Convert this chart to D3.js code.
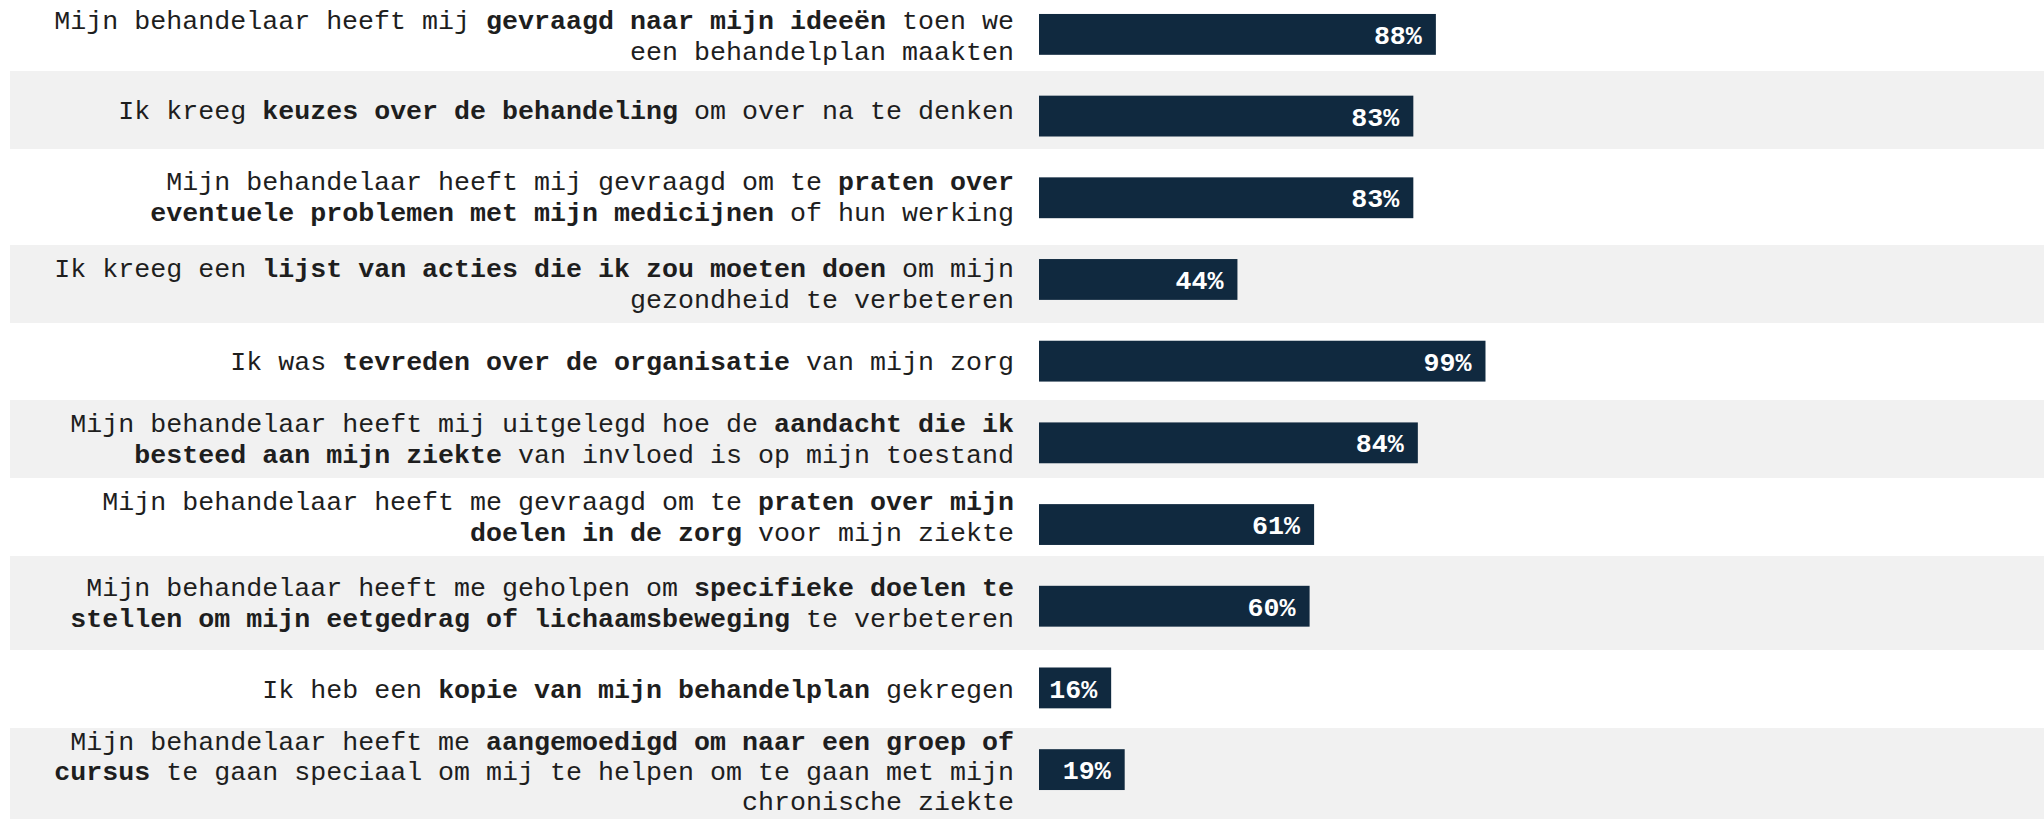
<!DOCTYPE html>
<html>
<head>
<meta charset="utf-8">
<script src="https://cdn.jsdelivr.net/npm/d3@7"></script>
<style>
  html, body { margin: 0; padding: 0; background: #ffffff; }
  svg { display: block; }
</style>
</head>
<body>
<svg id="chart" width="2044" height="819"></svg>
<script>
// ---- data ----
const statements = [
  "Mijn behandelaar heeft mij **gevraagd naar mijn ideeën** toen we\neen behandelplan maakten",
  "Ik kreeg **keuzes over de behandeling** om over na te denken",
  "Mijn behandelaar heeft mij gevraagd om te **praten over**\n**eventuele problemen met mijn medicijnen** of hun werking",
  "Ik kreeg een **lijst van acties die ik zou moeten doen** om mijn\ngezondheid te verbeteren",
  "Ik was **tevreden over de organisatie** van mijn zorg",
  "Mijn behandelaar heeft mij uitgelegd hoe de **aandacht die ik**\n**besteed aan mijn ziekte** van invloed is op mijn toestand",
  "Mijn behandelaar heeft me gevraagd om te **praten over mijn**\n**doelen in de zorg** voor mijn ziekte",
  "Mijn behandelaar heeft me geholpen om **specifieke doelen te**\n**stellen om mijn eetgedrag of lichaamsbeweging** te verbeteren",
  "Ik heb een **kopie van mijn behandelplan** gekregen",
  "Mijn behandelaar heeft me **aangemoedigd om naar een groep of**\n**cursus** te gaan speciaal om mij te helpen om te gaan met mijn\nchronische ziekte"
];
const percentages = [88, 83, 83, 44, 99, 84, 61, 60, 16, 19];

// ---- layout (not data) ----
const rowHeights = [71, 78, 96, 78, 77, 78, 78, 94, 78, 102];
const W = 2044, H = 819;
const barLeft = 1039, barRight100 = 1490;
const labelRight = 1014;
const stripeLeft = 10;
const fontFamily = "'Courier New', 'Liberation Mono', monospace";
const fontSize = 26.67;
const lineH = 31;

const svg = d3.select("#chart");

const idx = d3.range(statements.length);
const x = d3.scaleLinear().domain([0, 100]).range([barLeft, barRight100]);
const y = d3.scaleBand().domain(idx).range([0, 804]).paddingInner(0.5).paddingOuter(0.171);

// stacked row boxes for the label column / stripes
const rowTop = [];
let acc = 0;
rowHeights.forEach(h => { rowTop.push(acc); acc += h; });

// stripes
svg.append("g").selectAll("rect")
  .data(idx.filter(i => i % 2 === 1))
  .join("rect")
  .attr("x", stripeLeft)
  .attr("y", i => rowTop[i])
  .attr("width", W - stripeLeft)
  .attr("height", i => rowHeights[i])
  .attr("fill", "#f1f1f1");

// labels
function parseLine(line) {
  const parts = line.split("**");
  return parts.map((t, k) => ({ text: t, bold: k % 2 === 1 })).filter(p => p.text.length);
}

const lg = svg.append("g")
  .attr("font-family", fontFamily)
  .attr("font-size", fontSize)
  .attr("fill", "#1e1e1e");

idx.forEach(i => {
  const lines = statements[i].split("\n");
  let c = rowTop[i] + rowHeights[i] / 2;
  let lh = lineH;
  // keep the last (three-line) block inside the page
  const bottomLimit = H - 9 - fontSize * 0.32;
  const lastCenter = c + ((lines.length - 1) / 2) * lh;
  if (lastCenter > bottomLimit) {
    lh = 30;
    c = bottomLimit - ((lines.length - 1) / 2) * lh;
  }
  lines.forEach((ln, k) => {
    const yy = c + (k - (lines.length - 1) / 2) * lh;
    const t = lg.append("text")
      .attr("x", labelRight)
      .attr("y", yy)
      .attr("dy", "0.32em")
      .attr("text-anchor", "end")
      .attr("xml:space", "preserve")
      .style("white-space", "pre");
    parseLine(ln).forEach(seg => {
      t.append("tspan")
        .attr("font-weight", seg.bold ? "bold" : "normal")
        .text(seg.text);
    });
  });
});

// bars
svg.append("g").selectAll("rect")
  .data(idx)
  .join("rect")
  .attr("x", x(0))
  .attr("y", i => y(i))
  .attr("width", i => x(percentages[i]) - x(0))
  .attr("height", y.bandwidth())
  .attr("fill", "#10293f");

// value labels
svg.append("g").selectAll("text")
  .data(idx)
  .join("text")
  .attr("x", i => x(percentages[i]) - 14)
  .attr("y", i => y(i) + y.bandwidth() / 2)
  .attr("dy", "0.36em")
  .attr("text-anchor", "end")
  .attr("font-family", fontFamily)
  .attr("font-size", fontSize)
  .attr("font-weight", "bold")
  .attr("fill", "#ffffff")
  .text(i => percentages[i] + "%");
</script>
</body>
</html>
